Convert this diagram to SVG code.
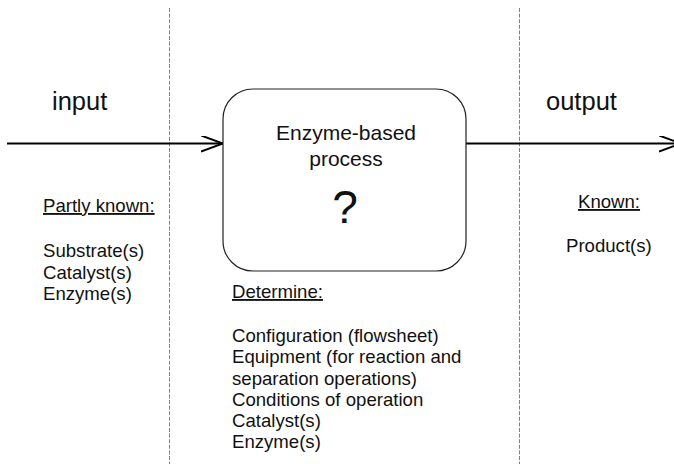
<svg xmlns="http://www.w3.org/2000/svg" width="674" height="464" viewBox="0 0 674 464">
  <style>
    text { font-family: "Liberation Sans", Arial, sans-serif; fill: #111; }
    .label { font-size: 25.5px; }
    .body { font-size: 18.6px; }
    .title { font-size: 21px; text-anchor: middle; }
    .q { font-size: 46px; text-anchor: middle; }
    .u { text-decoration: underline; }
    .divider { stroke: #808080; stroke-width: 1; stroke-dasharray: 4 1.6; fill: none; }
    .flow { stroke: #000; stroke-width: 2; fill: none; }
    .node { fill: #fff; stroke: #222; stroke-width: 1.2; }
  </style>
  <defs>
    <marker id="open-arrow" markerWidth="24" markerHeight="18" refX="22" refY="8" orient="auto" markerUnits="userSpaceOnUse">
      <path d="M0,0 L22,8 L0,16" fill="none" stroke="#000" stroke-width="2"/>
    </marker>
  </defs>
  <rect width="674" height="464" fill="#fff"/>

  <!-- stage dividers -->
  <g id="dividers">
    <line class="divider" x1="169.5" y1="8" x2="169.5" y2="464"/>
    <line class="divider" x1="519.5" y1="8" x2="519.5" y2="464"/>
  </g>

  <!-- flow connectors -->
  <g id="connectors">
    <line class="flow" x1="7" y1="143.5" x2="223" y2="143.5" marker-end="url(#open-arrow)"/>
    <line class="flow" x1="466" y1="143.5" x2="681" y2="143.5" marker-end="url(#open-arrow)"/>
  </g>

  <!-- process node -->
  <g id="process">
    <rect class="node" x="223" y="89" width="243" height="182" rx="30" ry="30"/>
    <text class="title" x="346" y="140">Enzyme-based</text>
    <text class="title" x="346" y="166">process</text>
    <text class="q" x="345" y="223">?</text>
  </g>

  <!-- input side -->
  <g id="input">
    <text class="label" x="52" y="110">input</text>
    <text class="body u" x="43" y="212">Partly known:</text>
    <text class="body" x="43" y="257">Substrate(s)</text>
    <text class="body" x="43" y="278.5">Catalyst(s)</text>
    <text class="body" x="43" y="300">Enzyme(s)</text>
  </g>

  <!-- output side -->
  <g id="output">
    <text class="label" x="546" y="110">output</text>
    <text class="body u" x="578" y="208">Known:</text>
    <text class="body" x="566" y="252">Product(s)</text>
  </g>

  <!-- unknowns to determine -->
  <g id="determine">
    <text class="body u" x="232" y="298">Determine:</text>
    <text class="body" x="232" y="342">Configuration (flowsheet)</text>
    <text class="body" x="232" y="363">Equipment (for reaction and</text>
    <text class="body" x="232" y="384.5">separation operations)</text>
    <text class="body" x="232" y="405.5">Conditions of operation</text>
    <text class="body" x="232" y="427">Catalyst(s)</text>
    <text class="body" x="232" y="448">Enzyme(s)</text>
  </g>
</svg>
